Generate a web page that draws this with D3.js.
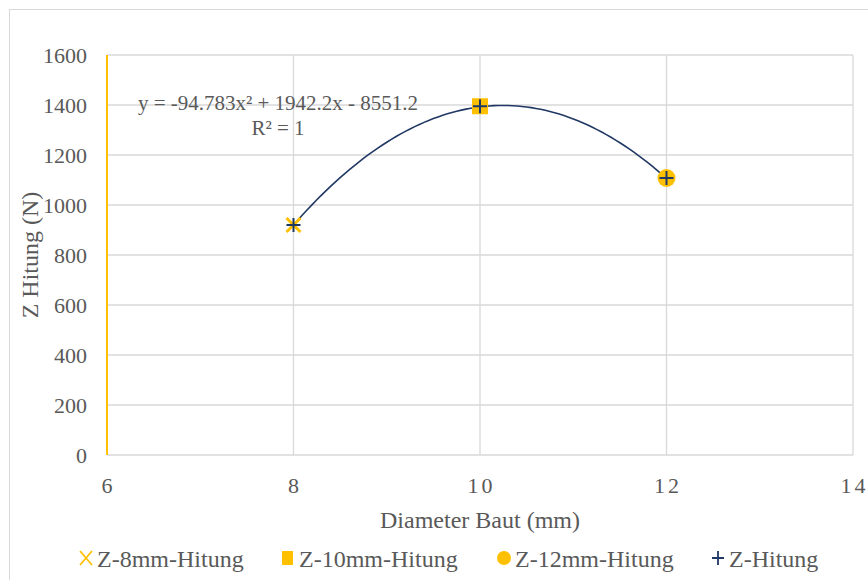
<!DOCTYPE html>
<html><head><meta charset="utf-8">
<script src="https://cdn.jsdelivr.net/npm/d3@7"></script>
<style>body{margin:0;background:#fff} text{font-family:"Liberation Serif","Times New Roman","DejaVu Serif",serif}</style>
</head><body>
<svg id="c" width="868" height="580"></svg>
<script>
const xTicks = [6, 8, 10, 12, 14];
const yTicks = [0, 200, 400, 600, 800, 1000, 1200, 1400, 1600];
const diameters = [8, 10, 12];
const zValues = [920, 1395, 1108];
const seriesNames = ["Z-8mm-Hitung", "Z-10mm-Hitung", "Z-12mm-Hitung", "Z-Hitung"];
const trendCoeffs = [-94.783, 1942.2, -8551.2]; // a, b, c as shown on chart
const trendLabel = ["y = -94.783x² + 1942.2x - 8551.2", "R² = 1"];

const svg = d3.select("#c");
const font = '"Liberation Serif","Times New Roman","DejaVu Serif",serif';
const txt = "#595959", grid = "#d9d9d9", yellow = "#FFC000", navy = "#203864";

svg.append("rect").attr("x", 9.5).attr("y", 9.5).attr("width", 870).attr("height", 580)
  .attr("fill", "#fff").attr("stroke", "#d9d9d9");

const x = d3.scaleLinear().domain([6, 14]).range([107, 853]);
const y = d3.scaleLinear().domain([0, 1600]).range([455, 55]);

const g = svg.append("g");
g.selectAll(".hg").data(yTicks).join("line")
  .attr("x1", x(6)).attr("x2", x(14)).attr("y1", d => y(d)).attr("y2", d => y(d))
  .attr("stroke", grid).attr("stroke-width", 1.3);
g.selectAll(".vg").data(xTicks.slice(1)).join("line")
  .attr("x1", d => x(d)).attr("x2", d => x(d)).attr("y1", y(0)).attr("y2", y(1600))
  .attr("stroke", grid).attr("stroke-width", 1.3);
g.append("line").attr("x1", x(6)).attr("x2", x(6)).attr("y1", y(0)).attr("y2", y(1600))
  .attr("stroke", yellow).attr("stroke-width", 2);

const yAxis = svg.append("g").attr("transform", `translate(${x(6)},0)`)
  .call(d3.axisLeft(y).tickValues(yTicks).tickSize(0).tickPadding(20).tickFormat(d3.format("d")));
yAxis.select(".domain").remove();
yAxis.attr("font-family", null).attr("font-size", null);
yAxis.selectAll("text").attr("fill", txt).style("font-family", font).style("font-size", "22px");

const xAxis = svg.append("g").attr("transform", `translate(0,${y(0)})`)
  .call(d3.axisBottom(x).tickValues(xTicks).tickSize(0).tickPadding(22).tickFormat(d3.format("d")));
xAxis.select(".domain").remove();
xAxis.attr("font-family", null).attr("font-size", null);
xAxis.selectAll("text").attr("fill", txt).style("font-family", font).style("font-size", "22px")
  .style("letter-spacing", "3px").attr("dx", "1px");

svg.append("text").attr("x", 480).attr("y", 528).attr("text-anchor", "middle")
  .attr("fill", txt).style("font-family", font).style("font-size", "24px").text("Diameter Baut (mm)");
svg.append("text").attr("transform", "translate(38,255) rotate(-90)").attr("text-anchor", "middle")
  .attr("fill", txt).style("font-family", font).style("font-size", "24px").text("Z Hitung (N)");

// polynomial trendline (coefficients displayed on chart)
const xs = d3.range(diameters[0], diameters[diameters.length - 1] + 0.001, 0.05);
const trend = xs.map(v => [v, trendCoeffs[0] * v * v + trendCoeffs[1] * v + trendCoeffs[2]]);
svg.append("path").datum(trend)
  .attr("d", d3.line().x(d => x(d[0])).y(d => y(d[1])))
  .attr("fill", "none").attr("stroke", navy).attr("stroke-width", 1.6);

const pts = diameters.map((d, i) => ({ x: x(d), y: y(zValues[i]) }));
const p0 = pts[0];
svg.append("path").attr("d", `M${p0.x-7},${p0.y-7}L${p0.x+7},${p0.y+7}M${p0.x-7},${p0.y+7}L${p0.x+7},${p0.y-7}`)
  .attr("stroke", yellow).attr("stroke-width", 3);
const p1 = pts[1];
svg.append("rect").attr("x", p1.x - 8).attr("y", p1.y - 8).attr("width", 16).attr("height", 16).attr("fill", yellow);
const p2 = pts[2];
svg.append("circle").attr("cx", p2.x).attr("cy", p2.y).attr("r", 9).attr("fill", yellow);
svg.selectAll(".plus").data(pts).join("path")
  .attr("d", p => `M${p.x-7},${p.y}L${p.x+7},${p.y}M${p.x},${p.y-7}L${p.x},${p.y+7}`)
  .attr("stroke", navy).attr("stroke-width", 2);

svg.append("text").attr("x", 278).attr("y", 110).attr("text-anchor", "middle")
  .attr("fill", txt).style("font-family", font).style("font-size", "21px").text(trendLabel[0]);
svg.append("text").attr("x", 278).attr("y", 135).attr("text-anchor", "middle")
  .attr("fill", txt).style("font-family", font).style("font-size", "21px").text(trendLabel[1]);

const lg = svg.append("g");
const lx = [86, 288, 504, 718];
const ly = 558;
seriesNames.forEach((n, i) => {
  const cx = lx[i];
  if (i === 0) lg.append("path").attr("d", `M${cx-6},${ly-7}L${cx+6},${ly+7}M${cx-6},${ly+7}L${cx+6},${ly-7}`).attr("stroke", yellow).attr("stroke-width", 1.8);
  if (i === 1) lg.append("rect").attr("x", cx - 6).attr("y", ly - 7).attr("width", 11).attr("height", 14).attr("fill", yellow);
  if (i === 2) lg.append("circle").attr("cx", cx).attr("cy", ly).attr("r", 7).attr("fill", yellow);
  if (i === 3) lg.append("path").attr("d", `M${cx-6},${ly}L${cx+6},${ly}M${cx},${ly-7}L${cx},${ly+7}`).attr("stroke", navy).attr("stroke-width", 1.8);
  lg.append("text").attr("x", cx + 11).attr("y", 567).attr("fill", txt)
    .style("font-family", font).style("font-size", "24px").text(n);
});
</script>
</body></html>
